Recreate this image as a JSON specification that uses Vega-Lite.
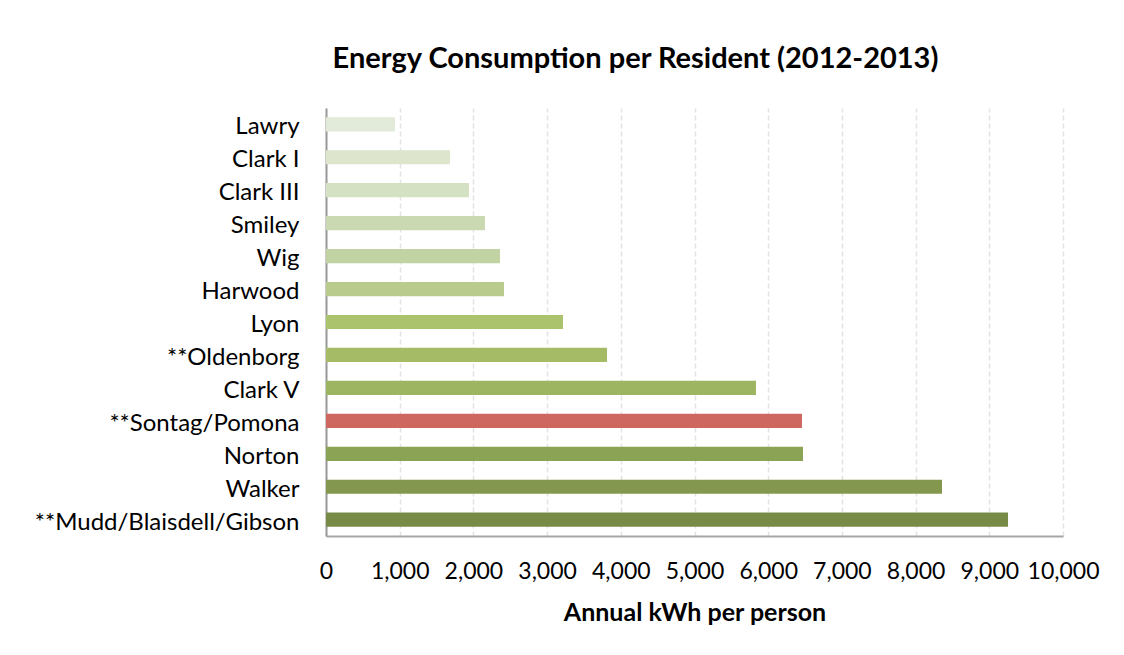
{
  "$schema": "https://vega.github.io/schema/vega-lite/v6.json",
  "autosize": {"type": "none"},
  "width": 737,
  "height": 428,
  "padding": {"left": 326, "top": 108, "right": 61, "bottom": 119},
  "background": "white",
  "title": {
    "text": "Energy Consumption per Resident (2012-2013)",
    "font": "Lato",
    "fontSize": 29,
    "fontWeight": "bold",
    "color": "#000000",
    "anchor": "middle",
    "dx": -59,
    "offset": 34
  },
  "data": {
    "values": [
      {"building": "Lawry", "kwh": 936},
      {"building": "Clark I", "kwh": 1682},
      {"building": "Clark III", "kwh": 1940},
      {"building": "Smiley", "kwh": 2157},
      {"building": "Wig", "kwh": 2361},
      {"building": "Harwood", "kwh": 2415},
      {"building": "Lyon", "kwh": 3216},
      {"building": "**Oldenborg", "kwh": 3813},
      {"building": "Clark V", "kwh": 5834},
      {"building": "**Sontag/Pomona", "kwh": 6458},
      {"building": "Norton", "kwh": 6472},
      {"building": "Walker", "kwh": 8358},
      {"building": "**Mudd/Blaisdell/Gibson", "kwh": 9254}
    ]
  },
  "mark": {"type": "bar"},
  "encoding": {
    "y": {
      "field": "building",
      "type": "nominal",
      "sort": null,
      "scale": {"paddingInner": 0.57, "paddingOuter": 0.28},
      "axis": {
        "title": null,
        "ticks": false,
        "labelPadding": 27,
        "labelOffset": 3,
        "labelLimit": 400,
        "labelFont": "Lato",
        "labelFontSize": 24,
        "labelColor": "#000000",
        "domainColor": "#999999",
        "domainWidth": 2,
        "grid": false
      }
    },
    "x": {
      "field": "kwh",
      "type": "quantitative",
      "scale": {"domain": [0, 10000], "nice": false},
      "axis": {
        "title": "Annual kWh per person",
        "titleFont": "Lato",
        "titleFontSize": 25,
        "titleFontWeight": "bold",
        "titleColor": "#000000",
        "titlePadding": 17,
        "values": [0, 1000, 2000, 3000, 4000, 5000, 6000, 7000, 8000, 9000, 10000],
        "format": ",d",
        "ticks": false,
        "labelPadding": 24,
        "labelFont": "Lato",
        "labelFontSize": 23,
        "labelColor": "#000000",
        "labelFlush": false,
        "labelOverlap": false,
        "domainColor": "#a6a6a6",
        "domainWidth": 2,
        "grid": true,
        "gridColor": "#e3e3e3",
        "gridDash": [5, 3],
        "gridWidth": 1.5
      }
    },
    "color": {
      "field": "building",
      "type": "nominal",
      "legend": null,
      "scale": {
        "domain": ["Lawry", "Clark I", "Clark III", "Smiley", "Wig", "Harwood", "Lyon", "**Oldenborg", "Clark V", "**Sontag/Pomona", "Norton", "Walker", "**Mudd/Blaisdell/Gibson"],
        "range": ["#e2ebd9", "#dde5cd", "#d5e1c3", "#cbd9b3", "#c1d3a2", "#b9cc8e", "#abc36c", "#a5bb66", "#9db460", "#cd6760", "#8ba354", "#83984e", "#778b46"]
      }
    }
  },
  "config": {
    "view": {"stroke": null}
  }
}
